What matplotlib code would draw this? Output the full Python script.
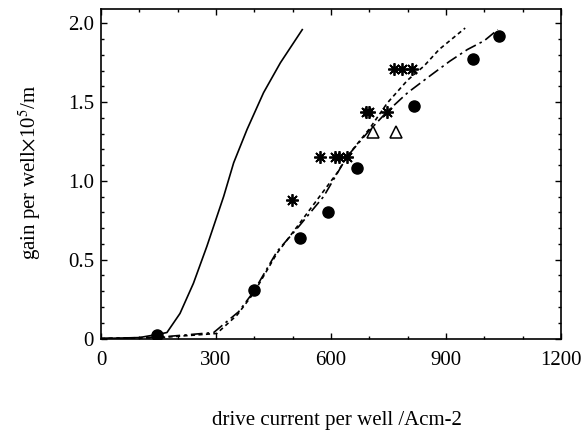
import matplotlib
matplotlib.use("Agg")
import matplotlib.pyplot as plt
from matplotlib.ticker import MultipleLocator

plt.rcParams['font.family'] = ['Liberation Serif', 'DejaVu Serif']
plt.rcParams['mathtext.fontset'] = 'stix'

# Data
solid_x = [0, 100, 145, 172, 206, 241, 276, 320, 346, 381, 424, 468, 525]
solid_y = [0, 0.006, 0.025, 0.038, 0.159, 0.35, 0.584, 0.902, 1.115, 1.327, 1.56, 1.75, 1.96]

dashed_x = [0, 150, 302, 355, 398, 459, 512, 564, 616, 642, 700, 747, 800, 843, 882, 950]
dashed_y = [0, 0.005, 0.032, 0.149, 0.287, 0.541, 0.711, 0.881, 1.051, 1.155, 1.33, 1.495, 1.64, 1.73, 1.834, 1.97]

dashdot_x = [0, 150, 294, 359, 398, 459, 516, 581, 642, 700, 747, 800, 860, 910, 956, 1000, 1035]
dashdot_y = [0, 0.008, 0.038, 0.17, 0.297, 0.552, 0.711, 0.902, 1.155, 1.32, 1.441, 1.56, 1.67, 1.76, 1.834, 1.89, 1.96]

circ_x = [145, 398, 518, 593, 667, 817, 971, 1039]
circ_y = [0.02, 0.31, 0.64, 0.80, 1.085, 1.476, 1.773, 1.917]

star_x = [499, 572, 610, 622, 642, 692, 700, 745, 764, 786, 810]
star_y = [0.879, 1.152, 1.152, 1.152, 1.152, 1.437, 1.437, 1.437, 1.713, 1.713, 1.713]

tri_x = [709, 770]
tri_y = [1.31, 1.31]

fig = plt.figure(figsize=(5.84, 4.36), dpi=100)
ax = fig.add_axes([0.173, 0.2236, 0.7876, 0.7554])

ax.plot(solid_x, solid_y, color='black', lw=1.2, ls='-')
ax.plot(dashed_x, dashed_y, color='black', lw=1.2, ls=(0, (2.5, 2)))
ax.plot(dashdot_x, dashdot_y, color='black', lw=1.2, ls=(0, (7, 2.5, 1.5, 2.5)))
ax.plot(circ_x, circ_y, 'o', color='black', ms=8, ls='none')
ax.plot(star_x, star_y, marker=(8, 2, 0), color='black', ms=9, mew=1.3, ls='none')
ax.plot(tri_x, tri_y, '^', mfc='white', mec='black', ms=8, mew=1.1, ls='none')

ax.set_xlim(0, 1200)
ax.set_ylim(0, 2.09)
ax.set_xticks([0, 300, 600, 900, 1200])
ax.set_xticklabels(['0', '300', '600', '900', '1200'])
ax.set_yticks([0, 0.5, 1.0, 1.5, 2.0])
ax.set_yticklabels(['0', '0.5', '1.0', '1.5', '2.0'])
ax.xaxis.set_minor_locator(MultipleLocator(100))
ax.yaxis.set_minor_locator(MultipleLocator(0.1))
ax.tick_params(which='both', direction='in', top=True, right=True, labelsize=15, width=1)
ax.tick_params(which='major', length=4)
ax.tick_params(which='minor', length=2)
ax.tick_params(axis='x', which='major', pad=9)
ax.tick_params(axis='y', which='major', pad=5)
for s in ax.spines.values():
    s.set_linewidth(1.2)

fig.text(0.05, 0.605, r'gain per well$\times$10$^5$/m', rotation=90, fontsize=15,
         ha='center', va='center')
fig.text(0.577, 0.035, 'drive current per well /Acm-2', fontsize=15, ha='center', va='center')

fig.savefig('out.png', dpi=100)
